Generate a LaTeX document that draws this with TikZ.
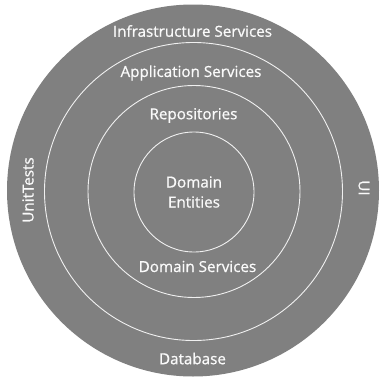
\documentclass[tikz,border=0pt]{standalone}
\usepackage{fontspec}
\setmainfont{Open Sans}[BoldFont={Open Sans}, BoldFeatures={FakeBold=0.8}]
\definecolor{ringfill}{RGB}{128,128,128}
\definecolor{ringline}{RGB}{240,240,240}
\definecolor{labeltext}{RGB}{250,250,250}
\tikzset{
  ring/.style={circle, draw=ringline, line width=0.9pt, inner sep=0pt, minimum size=#1},
  outerring/.style={circle, fill=ringfill, draw=none, inner sep=0pt, minimum size=#1},
  lbl/.style={text=labeltext, font=\fontsize{15.2}{20}\selectfont\bfseries, inner sep=0pt, align=center}
}
\begin{document}
\begin{tikzpicture}[x=1pt,y=-1pt]
\useasboundingbox (0,0) rectangle (381,378);
\fill[white] (0,0) rectangle (381,378);
\node[outerring=372pt] (outer) at (193,190.5) {};
\node[ring=298pt] (appring) at (193.5,191.5) {};
\node[ring=212pt] (repring) at (194,191.5) {};
\node[ring=120pt] (domring) at (194,192) {};
\node[lbl] (infra) at (192.5,31) {Infrastructure Services};
\node[lbl] (app) at (191,73) {Application Services};
\node[lbl] (repo) at (193.5,115.5) {Repositories};
\node[lbl] (dom) at (194,192) {Domain\\Entities};
\node[lbl] (domsvc) at (197.5,266.5) {Domain Services};
\node[lbl] (db) at (192.5,358.5) {Database};
\node[lbl, rotate=90] (tests) at (28,190) {UnitTests};
\node[lbl, rotate=-90] (ui) at (364,188) {UI};
\end{tikzpicture}
\end{document}
